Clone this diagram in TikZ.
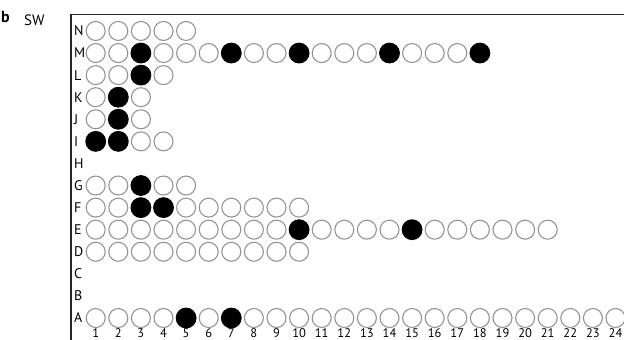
\documentclass[tikz,border=0pt]{standalone}
\usepackage{fontspec}
\setmainfont{PT Sans}

\begin{document}
\begin{tikzpicture}[
  x=1pt, y=-1pt,
  hole/.style   = {circle, draw=black!42, line width=1.1pt,
                   minimum size=19pt, inner sep=0pt},
  rowlab/.style = {anchor=west, inner sep=0pt,
                   font=\fontsize{14}{14}\selectfont},
  collab/.style = {anchor=base, inner sep=0pt,
                   font=\fontsize{12.5}{12.5}\selectfont},
  frame/.style  = {line width=1.4pt, black!85}
]
\useasboundingbox (0,0) rectangle (624,340);

% ---------- panel label ----------
\node[anchor=base west, inner sep=0pt, font=\fontsize{16}{16}\selectfont\bfseries]
  (panel) at (1,22) {b};
\node[anchor=base west, inner sep=0pt, font=\fontsize{15}{15}\selectfont]
  (site) at (24,25) {SW};

% ---------- frame ----------
\coordinate (tl) at (71,14.5);
\coordinate (tr) at (630,14.5);
\coordinate (bl) at (71,345);
\draw[frame] (tr) -- (tl) -- (bl);

% ---------- row letters ----------
\foreach \r [count=\i from 0] in {A,B,C,D,E,F,G,H,I,J,K,L,M,N}
  \node[rowlab] (lab-\r) at (74,{318-22.08*\i}) {\r};

% ---------- holes ----------
\foreach \r/\i/\n in {A/0/24, D/3/10, E/4/21, F/5/10, G/6/5, I/8/4,
                      J/9/3, K/10/3, L/11/4, M/12/18, N/13/5}
  \foreach \c in {1,...,\n}
    \node[hole] (\r-\c) at ({95.7+22.6*(\c-1)},{318-22.08*\i}) {};

% ---------- occupied sites ----------
\foreach \s in {A-5, A-7, E-10, E-15, F-3, F-4, G-3, I-1, I-2,
                J-2, K-2, L-3, M-3, M-7, M-10, M-14, M-18}
  \fill[black] (\s) circle[radius=10.4pt];

% ---------- column numbers ----------
\coordinate (numline) at (0,337.5);
\foreach \c in {1,...,24}
  \node[collab] (num-\c) at (A-\c |- numline) {\c};

\end{tikzpicture}
\end{document}
